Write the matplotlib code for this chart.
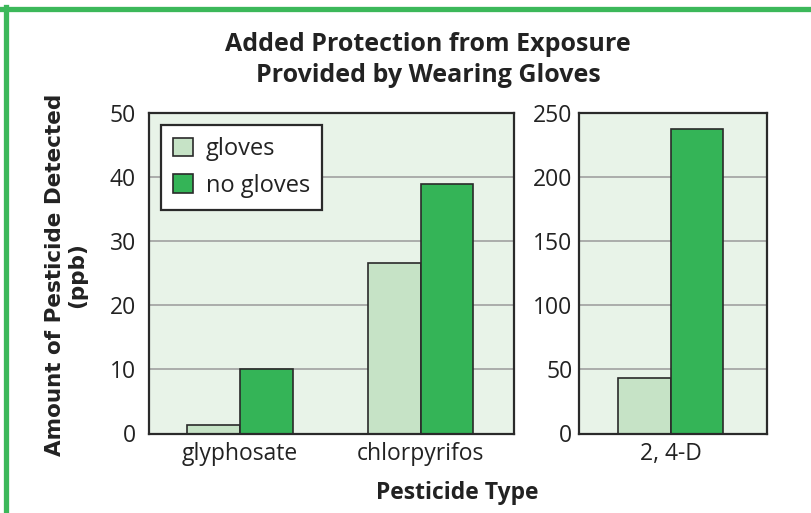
import matplotlib
matplotlib.use("Agg")
import matplotlib.pyplot as plt
from matplotlib.patches import Patch
from matplotlib.lines import Line2D
import numpy as np

title = "Added Protection from Exposure\nProvided by Wearing Gloves"
left_categories = ["glyphosate", "chlorpyrifos"]
left_gloves = [1.4, 26.7]
left_no_gloves = [10, 38.9]
right_categories = ["2, 4-D"]
right_gloves = [43]
right_no_gloves = [238]
left_yticks = [0, 10, 20, 30, 40, 50]
right_yticks = [0, 50, 100, 150, 200, 250]
series_names = ["gloves", "no gloves"]
ylabel = "Amount of Pesticide Detected\n(ppb)"
xlabel = "Pesticide Type"

plt.rcParams['font.family'] = ['Open Sans', 'DejaVu Sans']

W, H = 812, 513
fig = plt.figure(figsize=(W / 100, H / 100), dpi=100)

light = "#c6e3c6"
dark = "#34b457"
bg = "#e8f3e8"
edge = "#2a2a2a"
grid_c = "#9a9a9a"
txt = "#222222"
TICK_FS = 16.5

def rect(x0, y0, x1, y1):
    return [x0 / W, 1 - y1 / H, (x1 - x0) / W, (y1 - y0) / H]

axL = fig.add_axes(rect(148.5, 113.3, 514, 433.5))
axR = fig.add_axes(rect(579.3, 113.3, 766.7, 433.5))

bw = 0.2916

def draw(ax, cats, g, ng, yticks, ylim, xlim, ypad):
    x = np.arange(len(cats))
    ax.set_facecolor(bg)
    for t in yticks[1:-1]:
        ax.axhline(t, color=grid_c, lw=1.1, zorder=1)
    ax.bar(x - bw / 2, g, bw, color=light, edgecolor=edge, linewidth=1.2, zorder=3)
    ax.bar(x + bw / 2, ng, bw, color=dark, edgecolor=edge, linewidth=1.2, zorder=3)
    ax.set_ylim(*ylim)
    ax.set_xlim(*xlim)
    ax.set_yticks(yticks)
    ax.set_yticklabels([str(t) for t in yticks], fontsize=TICK_FS, color=txt)
    ax.set_xticks(x)
    ax.set_xticklabels(cats, fontsize=TICK_FS, color=txt)
    ax.tick_params(length=0)
    ax.tick_params(axis='x', pad=6)
    ax.tick_params(axis='y', pad=ypad)
    for s in ax.spines.values():
        s.set_color(edge)
        s.set_linewidth(1.6)
        s.set_zorder(4)

draw(axL, left_categories, left_gloves, left_no_gloves, left_yticks, (0, 50), (-0.507, 1.516), 9)
draw(axR, right_categories, right_gloves, right_no_gloves, right_yticks, (0, 250), (-0.506, 0.531), 5)

handles = [Patch(facecolor=light, edgecolor=edge, linewidth=1.2),
           Patch(facecolor=dark, edgecolor=edge, linewidth=1.2)]
leg = axL.legend(handles, series_names, loc="upper left",
                 bbox_to_anchor=((161 - 148.5) / 365.5, 1 - (125 - 113.3) / 320.2),
                 fontsize=17, frameon=True, fancybox=False, edgecolor=edge,
                 handlelength=0.82, handleheight=0.82, handletextpad=0.55,
                 borderpad=0.52, labelspacing=0.52, borderaxespad=0)
leg.get_frame().set_linewidth(1.6)
leg.get_frame().set_facecolor("white")
leg.get_frame().set_alpha(1)
leg.set_zorder(5)
for t in leg.get_texts():
    t.set_color(txt)

fig.text(428 / W, 1 - 60 / H, title, ha="center", va="center", fontsize=18,
         fontweight="bold", color=txt, linespacing=1.3)
fig.text(66 / W, 1 - 275 / H, ylabel, ha="center", va="center", rotation=90,
         fontsize=15.5, fontweight="bold", color=txt, linespacing=1.1,
         family=["DejaVu Sans"])
fig.text(457 / W, 1 - 493 / H, xlabel, ha="center", va="center", fontsize=16.5,
         fontweight="bold", color=txt)

# green frame (top and left)
gc = "#3cb85a"
fig.add_artist(Line2D([0, 1], [1 - 8.5 / H] * 2, transform=fig.transFigure, color=gc, lw=3.8))
fig.add_artist(Line2D([5.5 / W] * 2, [0, 1 - 6.5 / H], transform=fig.transFigure, color=gc, lw=3.8))

fig.savefig("out.png", dpi=100, facecolor="white")
